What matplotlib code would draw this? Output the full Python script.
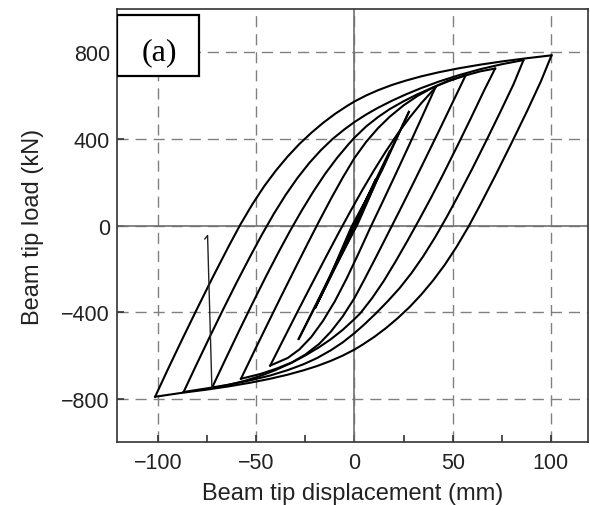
import matplotlib
matplotlib.use("Agg")
import matplotlib.pyplot as plt
from matplotlib.patches import Rectangle
from matplotlib.ticker import MultipleLocator

# reloading branches (negative peak -> positive peak), displacement mm / load kN
r6_x = [-101.5, -95, -88, -80, -72, -64, -58, -52, -46, -40, -34, -28, -22, -16, -10, -4, 0,
        6, 12, 19, 26, 34, 43, 53, 64, 76, 88, 100.3]
r6_y = [-791, -664, -531, -382, -236, -95, 6, 98, 181, 254, 319, 377, 428, 474, 515, 551, 573,
        601, 625, 649, 669, 689, 708, 726, 743, 759, 773, 786]
r5_x = [-87, -81, -74, -67, -60, -53, -47, -41, -35, -29, -23, -17, -11, -5, 0, 6, 12, 19, 26,
        34, 43, 53, 64, 75, 86]
r5_y = [-769, -653, -520, -390, -263, -141, -40, 55, 142, 220, 289, 349, 401, 445, 478, 513,
        544, 576, 605, 635, 665, 694, 722, 745, 764]
r4_x = [-72.6, -66, -59, -52, -45, -39, -33, -27, -21, -15, -9, -3, 0, 6, 12, 18, 25, 32, 40,
        48, 56, 64, 71.6]
r4_y = [-751, -624, -491, -361, -234, -129, -28, 67, 156, 238, 311, 376, 406, 458, 501, 538,
        574, 606, 638, 667, 692, 712, 725]
r3_x = [-57.8, -51, -44, -37, -30, -24, -18, -12, -6, 0, 6, 12, 18, 25, 32, 40, 48, 56.6]
r3_y = [-708, -580, -450, -321, -194, -86, 20, 123, 221, 312, 387, 450, 503, 555, 598, 638,
        670, 694]
r2_x = [-42.9, -36, -29, -22, -15, -8, -2, 4, 10, 16, 22, 28, 34, 41.3]
r2_y = [-647, -523, -398, -275, -153, -33, 67, 164, 256, 343, 424, 498, 565, 638]
r1_x = [-28.4, -14, -1.5, 14, 27.7]
r1_y = [-524, -268, -5, 255, 525]

# unloading branches (positive peak -> negative peak)
d6_x = [100.3, 95, 88, 80, 72, 64, 58, 52, 46, 40, 34, 28, 22, 16, 10, 4, 0, -6, -12, -19,
        -26, -34, -43, -53, -64, -76, -88, -101.5]
d6_y = [786, 668, 531, 382, 236, 95, -6, -98, -181, -254, -319, -377, -428, -474, -515, -551,
        -573, -601, -625, -649, -669, -689, -708, -726, -743, -759, -773, -791]
d5_x = [86, 81, 74, 67, 60, 53, 47, 41, 35, 29, 23, 17, 11, 5, 0, -6, -12, -19, -26, -34, -43,
        -53, -64, -75, -87]
d5_y = [763, 653, 520, 390, 263, 141, 40, -55, -142, -220, -289, -349, -405, -457, -497, -540,
        -576, -612, -641, -668, -693, -715, -735, -752, -769]
d4_x = [71.6, 66, 59, 52, 45, 39, 33, 27, 21, 15, 9, 3, 0, -6, -12, -18, -25, -32, -40, -48,
        -56, -64, -72.6]
d4_y = [725, 624, 491, 361, 234, 129, 28, -70, -165, -255, -335, -405, -432, -482, -525, -562,
        -600, -634, -667, -695, -718, -736, -751]
d3_x = [56.6, 50, 43, 36, 29, 23, 17, 11, 5, 0, -6, -12, -18, -25, -32, -40, -48, -57.8]
d3_y = [694, 569, 437, 307, 178, 69, -38, -145, -250, -335, -420, -490, -547, -596, -633, -662,
        -686, -708]
d2_x = [41.3, 35, 28, 21, 14, 8, 2, -4, -10, -16, -22, -28, -34, -42.9]
d2_y = [640, 514, 375, 238, 103, -11, -130, -245, -350, -440, -515, -572, -612, -647]
d1_x = [27.7, 14, 1.5, -14, -28.4]
d1_y = [525, 262, 5, -262, -524]

# small elastic cycles near the origin
s_x = [-20, -2, 18, 2, -20, -12, 0, 11, -1, -12]
s_y = [-380, -30, 345, 20, -380, -230, 0, 215, -10, -230]

# sudden jump near -75 mm
jump_x = [-76.2, -74.8, -72.6]
jump_y = [-62, -46, -751]

branches = [(r6_x, r6_y), (r5_x, r5_y), (r4_x, r4_y), (r3_x, r3_y), (r2_x, r2_y), (r1_x, r1_y),
            (d6_x, d6_y), (d5_x, d5_y), (d4_x, d4_y), (d3_x, d3_y), (d2_x, d2_y), (d1_x, d1_y),
            (s_x, s_y)]

plt.rcParams['font.family'] = ['Liberation Sans', 'DejaVu Sans']

fig = plt.figure(figsize=(5.9, 5.06), dpi=100)
ax = fig.add_axes([0.198, 0.1245, 0.799, 0.8557])

for bx, by in branches:
    ax.plot(bx, by, color='black', lw=1.5, zorder=3, solid_joinstyle='round')
ax.plot(jump_x, jump_y, color='#222222', lw=1.0, zorder=3)

ax.set_xlim(-121, 119)
ax.set_ylim(-1000, 1000)
ax.set_xticks([-100, -50, 0, 50, 100])
ax.set_yticks([-800, -400, 0, 400, 800])
ax.xaxis.set_minor_locator(MultipleLocator(25))

ax.grid(True, which='major', color='#808080', linestyle=(0, (8, 5)), lw=1.0, zorder=1)
ax.axhline(0, color='#707070', lw=1.2, zorder=2)
ax.axvline(0, color='#707070', lw=1.2, zorder=2)

ax.tick_params(which='both', direction='in', color='#333333', labelcolor='#222222')
ax.tick_params(which='major', length=5, width=1.2, labelsize=15.5)
ax.tick_params(which='minor', length=5, width=1.2)
ax.tick_params(axis='x', pad=7)
ax.tick_params(axis='y', pad=5)
for s in ax.spines.values():
    s.set_color('#333333')
    s.set_linewidth(1.2)

ax.set_xlabel('Beam tip displacement (mm)', fontsize=17, color='#222222', labelpad=7)
ax.set_ylabel('Beam tip load (kN)', fontsize=17, color='#222222', labelpad=12)

ax.add_patch(Rectangle((0, 0.845), 0.174, 0.141, transform=ax.transAxes,
                       facecolor='white', edgecolor='black', lw=1.6, zorder=5))
ax.text(0.09, 0.902, '(a)', transform=ax.transAxes, ha='center', va='center',
        fontsize=23, family='Liberation Serif', zorder=6)

fig.savefig('out.png', dpi=100)
